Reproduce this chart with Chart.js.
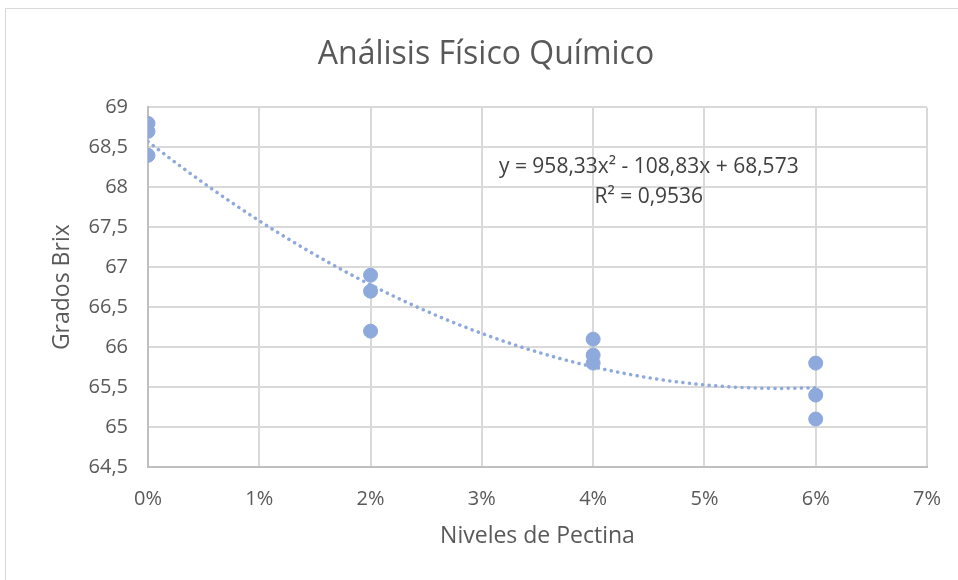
<!DOCTYPE html>
<html>
<head>
<meta charset="utf-8">
<script src="https://cdn.jsdelivr.net/npm/chart.js@4.4.0/dist/chart.umd.min.js"></script>
<style>
  html, body { margin: 0; padding: 0; background: #fff; overflow: hidden; }
  #wrap { position: relative; width: 958px; height: 580px; }
  #frame { position: absolute; left: 5px; top: 8px; width: 1000px; height: 700px; border: 1px solid #d9d9d9; box-sizing: border-box; }
  canvas { position: absolute; left: 0; top: 0; }
</style>
</head>
<body>
<div id="wrap">
  <div id="frame"></div>
  <canvas id="chart" width="958" height="580"></canvas>
</div>
<script>
// data
const pectina = [0, 0, 0, 0.02, 0.02, 0.02, 0.04, 0.04, 0.04, 0.06, 0.06, 0.06];
const brix = [68.8, 68.7, 68.4, 66.9, 66.7, 66.2, 66.1, 65.9, 65.8, 65.8, 65.4, 65.1];
const eqText = ['y = 958,33x² - 108,83x + 68,573', 'R² = 0,9536'];
const titleText = 'Análisis Físico Químico';
const xTitle = 'Niveles de Pectina';
const yTitle = 'Grados Brix';

const fnt = "'Open Sans', 'Noto Sans', sans-serif";
const txtClr = '#595959';
const ptClr = '#8EA9DB';
const gridClr = '#d9d9d9';
const axisClr = '#bfbfbf';

// least squares quadratic fit, like the excel trendline
function polyFit2(xs, ys) {
  let n = xs.length, s = [0,0,0,0,0], t = [0,0,0];
  for (let i = 0; i < n; i++) {
    let p = 1;
    for (let k = 0; k < 5; k++) { s[k] += p; if (k < 3) t[k] += p * ys[i]; p *= xs[i]; }
  }
  let m = [[s[0], s[1], s[2], t[0]], [s[1], s[2], s[3], t[1]], [s[2], s[3], s[4], t[2]]];
  for (let c = 0; c < 3; c++) {
    for (let r = c + 1; r < 3; r++) {
      let f = m[r][c] / m[c][c];
      for (let k = c; k < 4; k++) m[r][k] -= f * m[c][k];
    }
  }
  let a = [0,0,0];
  for (let r = 2; r >= 0; r--) {
    let v = m[r][3];
    for (let k = r + 1; k < 3; k++) v -= m[r][k] * a[k];
    a[r] = v / m[r][r];
  }
  return a;
}
const cf = polyFit2(pectina, brix);
let trend = [];
for (let i = 0; i <= 60; i++) {
  let x = 0.06 * i / 60;
  trend.push({ x: x, y: cf[0] + cf[1] * x + cf[2] * x * x });
}

const eqLabel = {
  id: 'eqLabel',
  afterDatasetsDraw(chart) {
    const c = chart.ctx, xs = chart.scales.x, ys = chart.scales.y;
    c.save();
    c.fillStyle = '#404040';
    c.font = '21px ' + fnt;
    c.textAlign = 'center';
    c.textBaseline = 'middle';
    c.fillText(eqText[0], xs.getPixelForValue(0.045), ys.getPixelForValue(68.25));
    c.fillText(eqText[1], xs.getPixelForValue(0.045), ys.getPixelForValue(67.88));
    c.restore();
  }
};

new Chart(document.getElementById('chart'), {
  type: 'scatter',
  data: {
    datasets: [{
      label: 'Brix',
      data: pectina.map((x, i) => ({ x: x, y: brix[i] })),
      backgroundColor: ptClr,
      borderColor: ptClr,
      pointRadius: 7,
      pointHoverRadius: 7,
      order: 1
    }, {
      label: 'Tendencia',
      type: 'line',
      data: trend,
      borderColor: ptClr,
      borderWidth: 3.5,
      borderDash: [0.1, 6.5],
      borderCapStyle: 'round',
      pointRadius: 0,
      fill: false,
      order: 2
    }]
  },
  options: {
    responsive: false,
    animation: false,
    layout: { padding: { left: 45, right: 31, top: 0, bottom: 26 } },
    plugins: {
      legend: { display: false },
      tooltip: { enabled: false },
      title: {
        display: true,
        text: titleText,
        color: txtClr,
        font: { family: fnt, size: 32, weight: 'normal' },
        padding: { top: 36, bottom: 33 }
      }
    },
    scales: {
      x: {
        type: 'linear',
        min: 0, max: 0.07,
        afterBuildTicks: (s) => { s.ticks = [0,1,2,3,4,5,6,7].map(v => ({ value: v / 100 })); },
        ticks: {
          color: txtClr,
          font: { family: fnt, size: 20 },
          padding: 20,
          callback: (v) => Math.round(v * 100) + '%'
        },
        grid: { color: gridClr, lineWidth: 2, drawTicks: false },
        border: { color: axisClr, width: 2 },
        title: { display: true, text: xTitle, color: txtClr, font: { family: fnt, size: 23 }, padding: { top: 6 } },
        afterFit: (s) => { s.height = 580 - 467 - 26; s.paddingRight = 0; s.paddingLeft = 0; }
      },
      y: {
        min: 64.5, max: 69,
        ticks: {
          stepSize: 0.5,
          color: txtClr,
          font: { family: fnt, size: 20 },
          padding: 20,
          callback: (v) => (Number.isInteger(v) ? String(v) : v.toFixed(1).replace('.', ','))
        },
        grid: { color: gridClr, lineWidth: 2, drawTicks: false },
        border: { color: axisClr, width: 2 },
        title: { display: true, text: yTitle, color: txtClr, font: { family: fnt, size: 23 }, padding: { bottom: 4 } },
        afterFit: (s) => { s.width = 148 - 45; }
      }
    }
  },
  plugins: [eqLabel]
});
</script>
</body>
</html>
